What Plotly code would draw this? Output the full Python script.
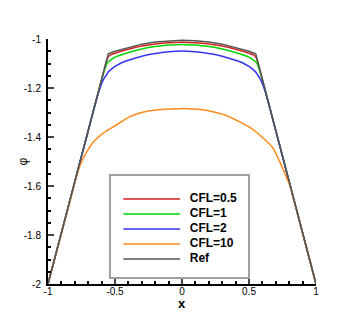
import plotly.graph_objects as go

# values
ref_x = [-1.0, -0.55, -0.5, -0.4, -0.3, -0.2, -0.1, 0.0, 0.1, 0.2, 0.3, 0.4, 0.5, 0.55, 1.0]
ref_y = [-2.0, -1.060, -1.050, -1.034, -1.021, -1.012, -1.007, -1.005,
         -1.007, -1.012, -1.021, -1.034, -1.050, -1.060, -2.0]

cfl05_x = [-1.0, -0.6, -0.58, -0.56, -0.55, -0.53, -0.5, -0.4, -0.3, -0.2, -0.1, 0.0,
           0.1, 0.2, 0.3, 0.4, 0.5, 0.53, 0.55, 0.56, 0.58, 0.6, 1.0]
cfl05_y = [-2.0, -1.166, -1.124, -1.085, -1.073, -1.064, -1.058, -1.042, -1.029, -1.020, -1.015, -1.013,
           -1.015, -1.020, -1.029, -1.042, -1.058, -1.064, -1.073, -1.085, -1.124, -1.166, -2.0]

cfl1_x = [-1.0, -0.62, -0.6, -0.58, -0.56, -0.55, -0.52, -0.5, -0.4, -0.3, -0.2, -0.1, 0.0,
          0.1, 0.2, 0.3, 0.4, 0.5, 0.52, 0.55, 0.56, 0.58, 0.6, 0.62, 1.0]
cfl1_y = [-2.0, -1.207, -1.168, -1.130, -1.100, -1.093, -1.081, -1.074, -1.055, -1.041, -1.031, -1.025, -1.022,
          -1.025, -1.031, -1.041, -1.055, -1.074, -1.081, -1.093, -1.100, -1.130, -1.168, -1.207, -2.0]

cfl2_x = [-1.0, -0.66, -0.62, -0.6, -0.58, -0.56, -0.55, -0.52, -0.5, -0.45, -0.4, -0.3, -0.2, -0.1, 0.0,
          0.1, 0.2, 0.3, 0.4, 0.45, 0.5, 0.52, 0.55, 0.56, 0.58, 0.6, 0.62, 0.66, 1.0]
cfl2_y = [-2.0, -1.291, -1.213, -1.182, -1.160, -1.143, -1.135, -1.120, -1.112, -1.097, -1.087, -1.070, -1.059, -1.052, -1.049,
          -1.052, -1.059, -1.070, -1.087, -1.097, -1.112, -1.120, -1.135, -1.143, -1.160, -1.182, -1.213, -1.291, -2.0]

cfl10_x = [-1.0, -0.83, -0.8, -0.76, -0.71, -0.66, -0.59, -0.49, -0.39, -0.3, -0.24, -0.15, -0.05, 0.0,
           0.05, 0.15, 0.23, 0.33, 0.43, 0.51, 0.58, 0.68, 0.74, 0.77, 0.81, 0.84, 1.0]
cfl10_y = [-2.0, -1.650, -1.586, -1.515, -1.460, -1.419, -1.385, -1.351, -1.317, -1.300, -1.293, -1.288, -1.285, -1.284,
           -1.285, -1.289, -1.297, -1.312, -1.338, -1.362, -1.392, -1.446, -1.514, -1.552, -1.606, -1.668, -2.0]

labels = ["CFL=0.5", "CFL=1", "CFL=2", "CFL=10", "Ref"]
colors = ["#d42020", "#00d400", "#3535f5", "#ff8c1e", "#555555"]

x_ticks = [-1, -0.5, 0, 0.5, 1]
x_ticktext = ["-1", "-0.5", "0", "0.5", "1"]
y_ticks = [-2, -1.8, -1.6, -1.4, -1.2, -1]
y_ticktext = ["-2", "-1.8", "-1.6", "-1.4", "-1.2", "-1"]

series = [(cfl05_x, cfl05_y), (cfl1_x, cfl1_y), (cfl2_x, cfl2_y), (cfl10_x, cfl10_y), (ref_x, ref_y)]

fig = go.Figure()
for (xs, ys), name, c in zip(series, labels, colors):
    shape = "linear" if name == "Ref" else "spline"
    fig.add_trace(go.Scatter(x=xs, y=ys, mode="lines", name=name,
                             line=dict(color=c, width=1.5, shape=shape, smoothing=0.5),
                             showlegend=False))

# hand made legend on its own small axes, inside a grey box
for i, (name, c) in enumerate(zip(labels, colors)):
    fig.add_trace(go.Scatter(x=[0.9, 5.05], y=[i, i], mode="lines", xaxis="x2", yaxis="y2",
                             line=dict(color=c, width=1.5), showlegend=False, hoverinfo="skip"))
    fig.add_trace(go.Scatter(x=[5.75], y=[i], mode="text", text=["<b>" + name + "</b>"],
                             textposition="middle right", xaxis="x2", yaxis="y2",
                             textfont=dict(size=12, color="black"), showlegend=False, hoverinfo="skip"))

# axis titles placed by hand (page body adds an 8px offset, so the figure is 352x312)
fig.add_annotation(text="<b>x</b>", xref="paper", yref="paper", x=0.5, y=0, yanchor="top",
                   yshift=-10, showarrow=False, font=dict(size=13))
fig.add_annotation(text="φ", xref="paper", yref="paper", x=0, y=0.5, xanchor="center",
                   xshift=-26, textangle=-90, showarrow=False, font=dict(size=12))

font = "Liberation Sans, Arial, Helvetica, sans-serif"
fig.update_layout(
    template="none",
    width=352, height=312,
    margin=dict(l=40, r=44, t=31, b=36, pad=0),
    paper_bgcolor="white", plot_bgcolor="white",
    font=dict(family=font, size=10, color="black"),
    xaxis=dict(range=[-1, 1], tickvals=x_ticks, ticktext=x_ticktext, ticks="inside", ticklen=6,
               tickwidth=1.5, showline=True, linewidth=2, linecolor="black", showgrid=False,
               zeroline=False, automargin=False, ticklabelstandoff=-3,
               minor=dict(dtick=0.1, ticks="inside", ticklen=3, tickcolor="black")),
    yaxis=dict(range=[-2, -1], tickvals=y_ticks, ticktext=y_ticktext, ticks="inside", ticklen=6,
               tickwidth=1.5, showline=True, linewidth=2, linecolor="black", showgrid=False,
               zeroline=False, ticklabelstandoff=3, automargin=False,
               minor=dict(dtick=0.05, ticks="inside", ticklen=3, tickcolor="black")),
    xaxis2=dict(domain=[0.235, 0.746], anchor="y2", range=[0, 10], showticklabels=False,
                ticks="", showgrid=False, zeroline=False, showline=True, mirror=True,
                linecolor="#a0a0a0", linewidth=1.5, automargin=False),
    yaxis2=dict(domain=[0.029, 0.441], anchor="x2", range=[5.2, -1.53], showticklabels=False,
                ticks="", showgrid=False, zeroline=False, showline=True, mirror=True,
                linecolor="#a0a0a0", linewidth=1.5, automargin=False),
)

fig.write_html("out.html")
